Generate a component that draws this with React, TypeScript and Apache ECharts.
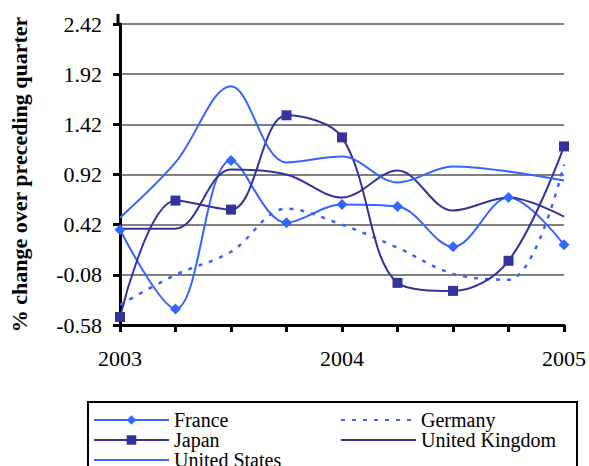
import React, { useEffect, useRef } from "react";
import * as echarts from "echarts";

const categories = ["2003", "", "", "", "2004", "", "", "", "2005"];
const yTicks = ["-0.58", "-0.08", "0.42", "0.92", "1.42", "1.92", "2.42"];
const france = [0.37, -0.42, 1.06, 0.44, 0.62, 0.6, 0.2, 0.69, 0.22];
const germany = [-0.38, -0.08, 0.15, 0.58, 0.42, 0.19, -0.07, -0.13, 1.02];
const japan = [-0.5, 0.66, 0.57, 1.51, 1.29, -0.16, -0.24, 0.06, 1.2];
const uk = [0.38, 0.38, 0.97, 0.92, 0.69, 0.96, 0.56, 0.69, 0.5];
const us = [0.49, 1.04, 1.8, 1.04, 1.1, 0.84, 1.0, 0.95, 0.86];

const BLUE = "#3366FF";
const NAVY = "#333399";
const FONT = "Liberation Serif";

export default function App() {
  const ref = useRef<HTMLDivElement>(null);
  useEffect(() => {
    if (!ref.current) return;
    const chart = echarts.init(ref.current, null, { renderer: "svg" });
    const lineSeries = (name: string, data: number[], color: string, extra: any = {}) => ({
      name,
      type: "line",
      data,
      smooth: 0.35,
      symbol: "none",
      lineStyle: { color, width: 2 },
      itemStyle: { color },
      ...extra,
    });
    const legendText = {
      color: "#000",
      fontSize: 20,
      lineHeight: 19.5,
      fontFamily: FONT,
      padding: [0, 0, 0, 0],
    };
    const noSym = { itemStyle: { opacity: 0 } };
    chart.setOption({
      animation: false,
      textStyle: { fontFamily: FONT },
      grid: { left: 118, top: 24, width: 448, height: 301, containLabel: false },
      xAxis: {
        type: "category",
        data: categories,
        boundaryGap: false,
        axisLine: { onZero: false, lineStyle: { color: "#000", width: 3 } },
        axisTick: { show: true, length: 7, interval: 0, lineStyle: { color: "#000", width: 3 } },
        axisLabel: { interval: 0, color: "#000", fontSize: 22, fontFamily: FONT, margin: 22 },
        splitLine: { show: false },
      },
      yAxis: {
        type: "value",
        min: -0.58,
        max: 2.42,
        interval: 0.5,
        name: "% change over preceding quarter",
        nameLocation: "middle",
        nameGap: 90,
        nameTextStyle: { color: "#000", fontSize: 22, fontWeight: "bold", fontFamily: FONT },
        axisLine: { show: true, lineStyle: { color: "#000", width: 3 } },
        axisTick: { show: true, length: 7, lineStyle: { color: "#000", width: 3 } },
        axisLabel: {
          color: "#000",
          fontSize: 22,
          fontFamily: FONT,
          margin: 18,
          formatter: (v: number) => {
            const found = yTicks.find((t) => Math.abs(parseFloat(t) - v) < 0.001);
            return found ?? v.toFixed(2);
          },
        },
        splitLine: { show: true, lineStyle: { color: "#808080", width: 2 } },
      },
      legend: [
        {
          orient: "vertical",
          left: 93,
          top: 410,
          height: 120,
          itemWidth: 75,
          itemHeight: 12,
          itemGap: 0,
          padding: 0,
          data: ["France", "Japan", { name: "United States", ...noSym }],
          textStyle: legendText,
        },
        {
          orient: "vertical",
          left: 340,
          top: 410,
          height: 120,
          itemWidth: 75,
          itemHeight: 12,
          itemGap: 0,
          padding: 0,
          data: [
            { name: "Germany", ...noSym },
            { name: "United Kingdom", ...noSym },
          ],
          textStyle: legendText,
        },
      ],
      graphic: [
        {
          type: "rect",
          shape: { x: 88, y: 402, width: 489, height: 100 },
          style: { fill: "none", stroke: "#000", lineWidth: 2 },
          silent: true,
        },
        {
          type: "line",
          shape: { x1: 118, y1: 14, x2: 118, y2: 25 },
          style: { stroke: "#000", lineWidth: 3 },
          silent: true,
        },
      ],
      series: [
        lineSeries("France", france, BLUE, { symbol: "diamond", symbolSize: 11, showSymbol: true }),
        lineSeries("Germany", germany, BLUE, { lineStyle: { color: BLUE, width: 2.5, type: [4, 7] } }),
        lineSeries("Japan", japan, NAVY, { symbol: "rect", symbolSize: 10, showSymbol: true }),
        lineSeries("United Kingdom", uk, NAVY),
        lineSeries("United States", us, BLUE),
      ],
    });
    return () => chart.dispose();
  }, []);
  return <div ref={ref} style={{ width: 589, height: 466, position: "absolute", left: 0, top: 0 }} />;
}
